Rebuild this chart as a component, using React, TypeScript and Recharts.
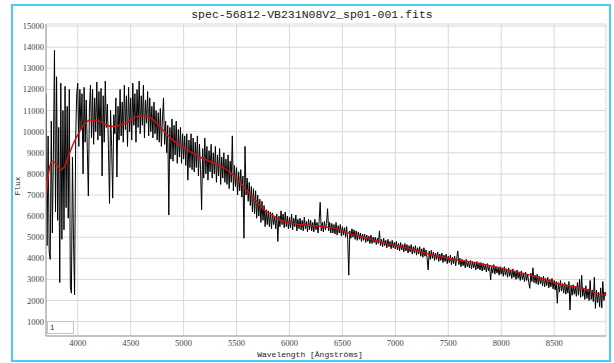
import React from 'react';
import { LineChart, Line, XAxis, YAxis, CartesianGrid } from 'recharts';

const WAVE_START = 3700;
const WAVE_STEP = 10;

const flux = [
  11800, 4600, 9800, 4300, 3950, 10500, 5200, 9000, 13850, 6200,
  12600, 5800, 10200, 2850, 12300, 4900, 11000, 5350, 12150, 6400,
  11200, 5900, 12000, 2650, 2350, 8800, 4800, 2270, 9600, 11800,
  12300, 9300, 12000, 10100, 11800, 8000, 12100, 9500, 11500, 9200,
  6950, 11000, 12200, 9700, 12000, 9400, 11600, 10000, 12350, 9600,
  11900, 9800, 12050, 7900, 11700, 9500, 12400, 10200, 11300, 9200,
  6600, 11000, 9300, 6850, 10800, 9900, 11600, 7850, 11200, 9600,
  12000, 9800, 11400, 9500, 12200, 10100, 11700, 9300, 12100, 10000,
  11600, 9600, 12300, 10300, 11800, 9500, 12000, 10200, 12400, 9900,
  11700, 10300, 12200, 9700, 11500, 10400, 11900, 9800, 11600, 10000,
  11200, 9700, 11400, 9900, 11000, 9600, 10900, 9500, 11100, 9300,
  10600, 11600, 9400, 10500, 9000, 10300, 6050, 10200, 8700, 10600,
  8600, 10300, 8900, 10500, 8500, 10100, 8800, 10200, 8500, 9900,
  8700, 9800, 8400, 9900, 7700, 9600, 8300, 9900, 8200, 9700,
  8100, 9500, 8300, 9800, 7900, 9400, 8200, 6300, 9200, 7800,
  9700, 8000, 9300, 7700, 9100, 8100, 9400, 7800, 9000, 8000,
  9300, 7600, 8900, 7900, 9200, 7500, 8800, 7800, 9000, 7600,
  8700, 7500, 8900, 7300, 8600, 7600, 9800, 7200, 8400, 7400,
  8300, 7000, 8100, 7200, 8200, 6900, 7900, 4950, 9300, 7000,
  7800, 6700, 7600, 6500, 7400, 6200, 7300, 6100, 7200, 5900,
  7000, 6000, 6800, 5700, 6700, 5800, 6500, 5500, 6300, 5600,
  6250, 5500, 6200, 5400, 6150, 5600, 6000, 5400, 6100, 4800,
  6000, 5500, 6250, 5600, 6100, 5450, 6200, 5500, 6000, 5400,
  5950, 5450, 6100, 5350, 5900, 5500, 6050, 5300, 5850, 5400,
  5900, 5350, 5800, 5300, 5950, 5400, 5750, 5250, 5850, 5350,
  5800, 5300, 5700, 5250, 5850, 5350, 5700, 5200, 5750, 6650,
  5300, 5700, 5250, 5750, 5350, 5650, 6350, 5300, 5700, 5200,
  5650, 5200, 5600, 5150, 5700, 5100, 5550, 5200, 5600, 5050,
  5500, 5100, 5450, 5000, 5500, 4900, 3200, 5300, 4950, 5400,
  5000, 5350, 4900, 5300, 4850, 5250, 4900, 5200, 4800, 5150,
  4850, 5150, 4750, 5100, 4800, 5050, 4700, 5100, 4700, 5000,
  4750, 5000, 4650, 4950, 4700, 5300, 4600, 4900, 4550, 4950,
  4600, 4850, 4500, 4900, 4550, 4800, 4450, 4850, 4500, 4750,
  4450, 4800, 4400, 4700, 4350, 4750, 4400, 4650, 4300, 4700,
  4350, 4650, 4250, 4600, 4300, 4650, 4200, 4550, 4250, 4600,
  4150, 4500, 4200, 4550, 4100, 4450, 4050, 4500, 4100, 4400,
  4000, 3450, 4350, 3950, 4380, 4000, 4300, 3900, 4250, 3950,
  4300, 3850, 4200, 3900, 4250, 3800, 4150, 3850, 4200, 3750,
  4100, 3800, 4150, 3700, 4050, 3750, 4100, 3650, 4000, 4350,
  3700, 4000, 3600, 3950, 3650, 3900, 3550, 3950, 3600, 3850,
  3550, 3900, 3500, 3850, 3550, 3800, 3450, 3850, 3500, 3750,
  3450, 3800, 3400, 3750, 3450, 3700, 3350, 3750, 3400, 3650,
  2970, 3600, 3300, 3700, 3250, 3600, 3300, 3550, 3200, 3600,
  3250, 3550, 3150, 3600, 3200, 3500, 3100, 3550, 3150, 3450,
  3050, 3500, 3100, 3400, 3000, 3450, 3050, 3350, 2950, 3400,
  3000, 3300, 2900, 3350, 2950, 3250, 2850, 2580, 3300, 2900,
  3550, 2850, 3200, 2800, 3250, 2750, 3150, 2800, 3100, 2700,
  3150, 2650, 3050, 2700, 3100, 2600, 3000, 2650, 3050, 2550,
  2950, 2500, 2900, 1870, 2850, 2400, 2950, 2450, 2800, 2350,
  2850, 2300, 2750, 2350, 2900, 1550, 2700, 2250, 2750, 2300,
  2650, 2200, 2850, 2250, 3000, 2150, 3200, 2200, 2600, 2050,
  2700, 2100, 2550, 2000, 2950, 2050, 2500, 1950, 3100, 1630,
  2500, 1900, 2400, 1700, 2600, 1650, 2900, 2000, 2400, 2250,
];

// smooth continuum fit (red)
const contWave = [
  3700, 3730, 3760, 3800, 3840, 3880, 3920, 3960, 4000, 4040, 4120, 4200, 4320, 4450, 4550,
  4620, 4700, 4800, 4870, 5000, 5150, 5300, 5420, 5500, 5600, 5700, 5760, 5820, 5900, 6000,
  6100, 6300, 6450, 6570, 6700, 6900, 7100, 7300, 7500, 7800, 8080, 8330, 8520, 8780, 8900, 8990,
];
const contFlux = [
  6900, 8200, 8600, 8450, 8200, 8400, 8950, 9450, 9850, 10200, 10550, 10500, 10240, 10400, 10700,
  10750, 10620, 10100, 9730, 9250, 8800, 8480, 8150, 7780, 7200, 6650, 6300, 6100, 5850, 5680,
  5600, 5510, 5400, 5170, 5000, 4720, 4500, 4230, 4000, 3750, 3440, 3130, 2820, 2560, 2340, 2250,
];

const xTicks = [4000, 4500, 5000, 5500, 6000, 6500, 7000, 7500, 8000, 8500];
const yTicks = [1000, 2000, 3000, 4000, 5000, 6000, 7000, 8000, 9000, 10000, 11000, 12000, 13000, 14000, 15000];

const rows: { w: number; flux: number; cont?: number }[] = flux.map((f, i) => ({ w: WAVE_START + i * WAVE_STEP, flux: f }));
contWave.forEach((w, i) => {
  const idx = Math.round((w - WAVE_START) / WAVE_STEP);
  if (rows[idx]) rows[idx].cont = contFlux[i];
});

const tickStyle = { fontFamily: '"Liberation Serif", serif', fontSize: 8.5, fill: '#444' };
const mono = '"Liberation Mono", "DejaVu Sans Mono", monospace';

export default function App() {
  return (
    <div style={{ position: 'absolute', left: 0, top: 0, width: 614, height: 363, background: '#fff' }}>
      <div
        style={{
          position: 'absolute', left: 11, top: 4, width: 600, height: 358,
          boxSizing: 'border-box', border: '2px solid #4cc9ee',
        }}
      />
      <div
        style={{
          position: 'absolute', left: 0, width: 624, top: 8, textAlign: 'center',
          fontFamily: mono, fontSize: 11.5, color: '#222', lineHeight: '14px',
        }}
      >
        spec-56812-VB231N08V2_sp01-001.fits
      </div>
      <div style={{ position: 'absolute', left: 0, top: 0 }}>
        <LineChart width={614} height={363} data={rows} margin={{ top: 24, right: 8, bottom: 0, left: 0 }}>
          <CartesianGrid stroke="#d9d9d9" />
          <XAxis
            dataKey="w"
            type="number"
            domain={[3700, 8990]}
            ticks={xTicks}
            interval={0}
            allowDataOverflow
            height={27}
            tickLine={false}
            tickSize={2}
            tickMargin={2}
            stroke="#9a9a9a"
            tick={tickStyle}
          />
          <YAxis
            type="number"
            domain={[320, 15100]}
            ticks={yTicks}
            interval={0}
            allowDataOverflow
            width={46}
            tickLine={false}
            tickSize={1}
            tickMargin={1}
            stroke="#9a9a9a"
            tick={tickStyle}
          />
          <Line dataKey="flux" stroke="#000" strokeWidth={1} dot={false} isAnimationActive={false} type="linear" />
          <Line dataKey="cont" stroke="#cc1111" strokeWidth={1.5} dot={false} isAnimationActive={false} type="monotone" connectNulls />
        </LineChart>
      </div>
      <div
        style={{
          position: 'absolute', left: 250, width: 120, top: 350, textAlign: 'center',
          fontFamily: mono, fontSize: 8, color: '#222', lineHeight: '10px', whiteSpace: 'nowrap',
        }}
      >
        Wavelength [Ångströms]
      </div>
      <div
        style={{
          position: 'absolute', left: 18, top: 186, transform: 'translate(-50%, -50%) rotate(-90deg)',
          fontFamily: mono, fontSize: 8, color: '#222', lineHeight: '10px',
        }}
      >
        Flux
      </div>
      <div
        style={{
          position: 'absolute', left: 47, top: 321, width: 27, height: 13, boxSizing: 'border-box',
          border: '1px solid #c4c4c4', background: '#fff', fontFamily: '"Liberation Sans", sans-serif',
          fontSize: 8, lineHeight: '11px', paddingLeft: 2, color: '#333',
        }}
      >
        1
      </div>
    </div>
  );
}
